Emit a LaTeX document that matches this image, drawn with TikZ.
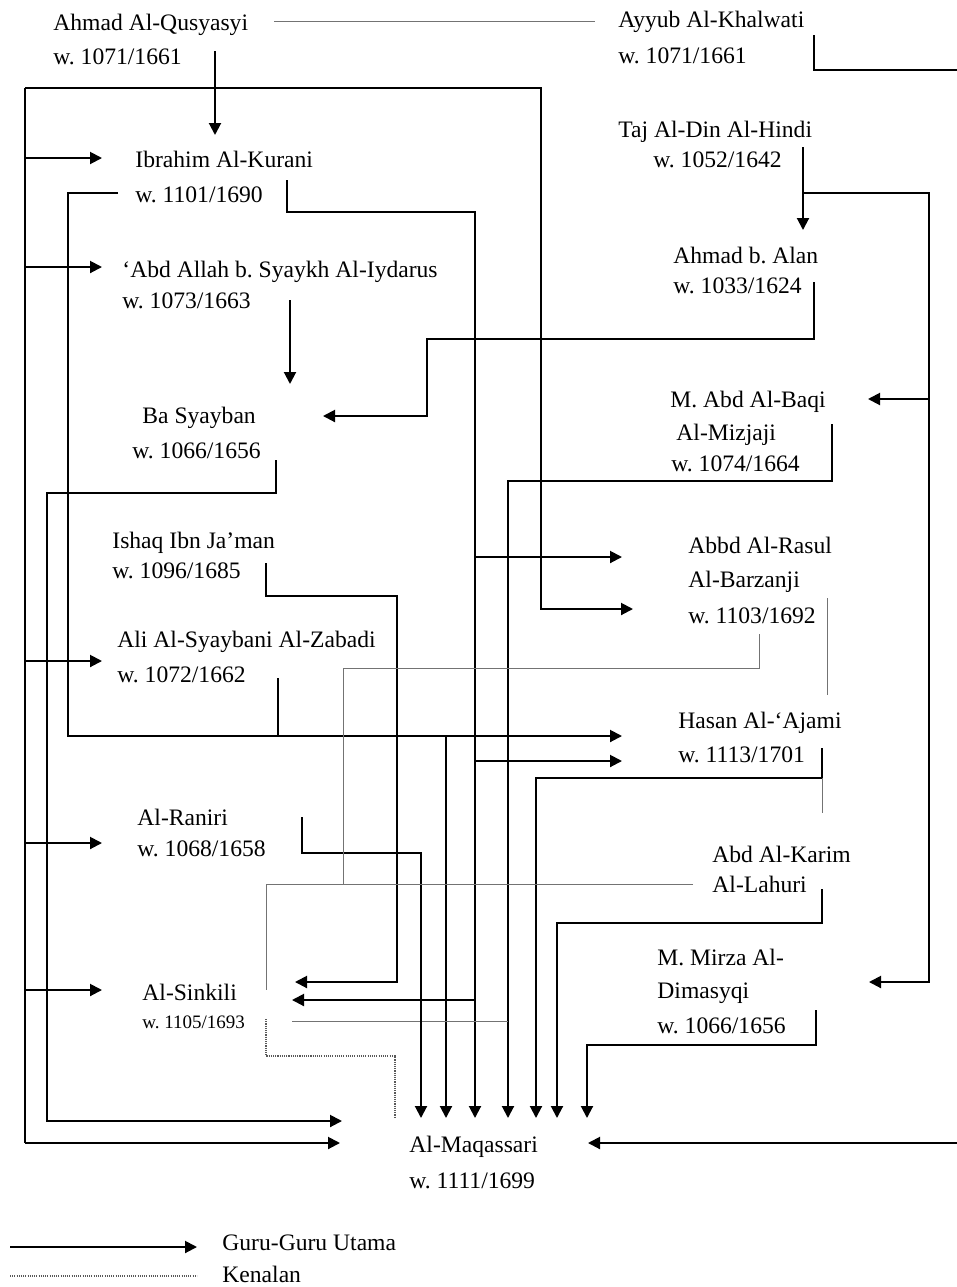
\documentclass[tikz,border=0pt]{standalone}
\usepackage{fontspec}
\setmainfont{Liberation Serif}
\usetikzlibrary{arrows.meta}
\begin{document}
\frenchspacing
\begin{tikzpicture}[x=0.5pt,y=-0.5pt,
  lbl/.style={anchor=base west,inner sep=0pt,font=\fontsize{11.8}{14}\selectfont},
  small/.style={anchor=base west,inner sep=0pt,font=\fontsize{9.5}{11}\selectfont},
  tk/.style={line width=1pt,black},
  tn/.style={line width=0.5pt,black!55},
  arr/.style={tk,-{Triangle[length=6pt,width=6pt]}},
  dotl/.style={line width=1.1pt,black!65,dash pattern=on 0.55pt off 0.55pt}]
\useasboundingbox (0,0) rectangle (957,1287);
% ---------- labels
\node[lbl] (qus1) at (53,30) {Ahmad Al-Qusyasyi};
\node[lbl] (qus2) at (53,64) {w. 1071/1661};
\node[lbl] (khal1) at (618,27) {Ayyub Al-Khalwati};
\node[lbl] (khal2) at (618,63) {w. 1071/1661};
\node[lbl] (ibr1) at (135,167) {Ibrahim Al-Kurani};
\node[lbl] (ibr2) at (135,202) {w. 1101/1690};
\node[lbl] (abd1) at (122,277) {‘Abd Allah b. Syaykh Al-Iydarus};
\node[lbl] (abd2) at (122,308) {w. 1073/1663};
\node[lbl] (ba1) at (142,423) {Ba Syayban};
\node[lbl] (ba2) at (132,458) {w. 1066/1656};
\node[lbl] (ish1) at (112,548) {Ishaq Ibn Ja’man};
\node[lbl] (ish2) at (112,578) {w. 1096/1685};
\node[lbl] (ali1) at (117,647) {Ali Al-Syaybani Al-Zabadi};
\node[lbl] (ali2) at (117,682) {w. 1072/1662};
\node[lbl] (ran1) at (137,825) {Al-Raniri};
\node[lbl] (ran2) at (137,856) {w. 1068/1658};
\node[lbl] (sin1) at (142,1000) {Al-Sinkili};
\node[small] (sin2) at (142,1028) {w. 1105/1693};
\node[lbl] (maq1) at (409,1152) {Al-Maqassari};
\node[lbl] (maq2) at (409,1188) {w. 1111/1699};
\node[lbl] (taj1) at (618,137) {Taj Al-Din Al-Hindi};
\node[lbl] (taj2) at (653,167) {w. 1052/1642};
\node[lbl] (alan1) at (673,263) {Ahmad b. Alan};
\node[lbl] (alan2) at (673,293) {w. 1033/1624};
\node[lbl] (miz1) at (670,407) {M. Abd Al-Baqi};
\node[lbl] (miz2) at (676,440) {Al-Mizjaji};
\node[lbl] (miz3) at (671,471) {w. 1074/1664};
\node[lbl] (bar1) at (688,553) {Abbd Al-Rasul};
\node[lbl] (bar2) at (688,587) {Al-Barzanji};
\node[lbl] (bar3) at (688,623) {w. 1103/1692};
\node[lbl] (has1) at (678,728) {Hasan Al-‘Ajami};
\node[lbl] (has2) at (678,762) {w. 1113/1701};
\node[lbl] (kar1) at (712,862) {Abd Al-Karim};
\node[lbl] (kar2) at (712,892) {Al-Lahuri};
\node[lbl] (mir1) at (657,965) {M. Mirza Al-};
\node[lbl] (mir2) at (657,998) {Dimasyqi};
\node[lbl] (mir3) at (657,1033) {w. 1066/1656};
\node[lbl] (leg1) at (222,1250) {Guru-Guru Utama};
\node[lbl] (leg2) at (222,1282) {Kenalan};
% ---------- connector end points
\coordinate (qusR) at (274,21);   \coordinate (khalL) at (595,21);
\coordinate (qusB) at (215,51);   \coordinate (ibrT) at (215,135);
\coordinate (khalB) at (814,35);  \coordinate (khalE) at (957,70);
\coordinate (frTL) at (25,88);    \coordinate (frBL) at (25,1143);
\coordinate (barL2) at (633,609); \coordinate (maqL2) at (340,1143);
\coordinate (baB) at (276,460);   \coordinate (maqL1) at (342,1121);
\coordinate (ibrL) at (118,193);  \coordinate (hasL1) at (622,736);
\coordinate (aliB) at (278,678);
\coordinate (ibrR) at (287,180);
\coordinate (abdB) at (290,300);  \coordinate (baT) at (290,384);
\coordinate (alanB) at (814,282); \coordinate (baR) at (323,416);
\coordinate (tajB) at (803,147);  \coordinate (alanT) at (803,230);
\coordinate (mizR) at (868,399);  \coordinate (mirR) at (869,982);
\coordinate (mizB) at (832,424);
\coordinate (ishB) at (266,563);  \coordinate (sinR1) at (295,982);
\coordinate (sinR2) at (292,1000); \coordinate (sinR3) at (292,1021);
\coordinate (ranB) at (302,817);
\coordinate (barB) at (759,634);  \coordinate (barR) at (827,598);
\coordinate (hasB) at (822,748);
\coordinate (karL) at (693,884);  \coordinate (karB) at (822,889);
\coordinate (mirB) at (816,1010);
\coordinate (maqR) at (588,1143); \coordinate (rEdge) at (957,1143);
\coordinate (sinB) at (266,1019);
% ---------- connectors
\draw[tn] (qusR) -- (khalL);
\draw[arr] (qusB) -- (ibrT);
\draw[tk] (khalB) |- (khalE);
% outer frame
\draw[tk] (frTL) -- (frBL);
\draw[arr] (frTL) -- (541,88) -- (541,609) -- (barL2);
\draw[arr] (frBL) -- (maqL2);
\foreach \yy in {158,267,661,843,990} \draw[arr] (25,\yy) -- (102,\yy);
% Ba Syayban
\draw[arr] (baB) -- (276,493) -- (47,493) -- (47,1121) -- (maqL1);
% Ibrahim left
\draw[arr] (ibrL) -- (68,193) -- (68,736) -- (hasL1);
\draw[tk] (aliB) -- (278,736);
\draw[arr] (446,736) -- (446,1118);
% Ibrahim right
\draw[arr] (ibrR) -- (287,212) -- (475,212) -- (475,1118);
\draw[arr] (475,557) -- (622,557);
\draw[arr] (475,761) -- (622,761);
\draw[arr] (475,1000) -- (sinR2);
% Abdallah
\draw[arr] (abdB) -- (baT);
% Ahmad b. Alan
\draw[arr] (alanB) -- (814,339) -- (427,339) -- (427,416) -- (baR);
% Taj al-Din
\draw[arr] (tajB) -- (alanT);
\draw[arr] (803,193) -- (929,193) -- (929,982) -- (mirR);
\draw[arr] (929,399) -- (mizR);
% Mizjaji
\draw[arr] (mizB) -- (832,481) -- (508,481) -- (508,1118);
\draw[tn] (sinR3) -- (508,1021);
% Ishaq
\draw[arr] (ishB) -- (266,596) -- (397,596) -- (397,982) -- (sinR1);
% Raniri
\draw[arr] (ranB) -- (302,853) -- (421,853) -- (421,1118);
% Barzanji thin
\draw[tn] (barB) -- (759,668) -- (343,668) -- (343,884);
\draw[tn] (barR) -- (827,695);
% Hasan
\draw[arr] (hasB) -- (822,778) -- (536,778) -- (536,1118);
\draw[tn] (822,778) -- (822,813);
% Abd al-Karim
\draw[tn] (karL) -- (266,884) -- (266,990);
\draw[arr] (karB) -- (822,923) -- (557,923) -- (557,1118);
% Mirza
\draw[arr] (mirB) -- (816,1045) -- (587,1045) -- (587,1118);
% from right edge
\draw[arr] (rEdge) -- (maqR);
% Kenalan (dotted)
\draw[dotl] (sinB) -- (266,1056) -- (395,1056) -- (395,1118);
% legend
\coordinate (lg1) at (10,1247); \coordinate (lg2) at (10,1276);
\draw[arr] (lg1) -- (197,1247);
\draw[dotl] (lg2) -- (197,1276);
\end{tikzpicture}
\end{document}
